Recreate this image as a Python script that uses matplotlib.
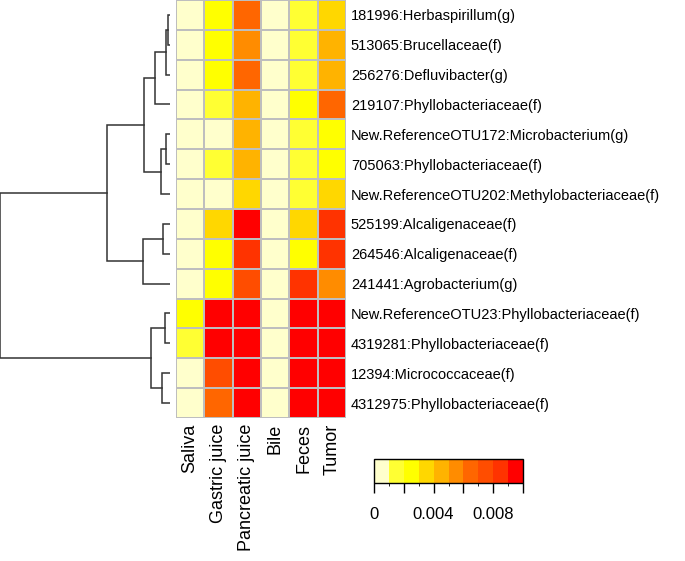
import matplotlib
matplotlib.use("Agg")
import matplotlib.pyplot as plt
from matplotlib.colors import ListedColormap, BoundaryNorm
import numpy as np

plt.rcParams['font.family'] = ['Liberation Sans', 'DejaVu Sans']

samples = ["Saliva", "Gastric juice", "Pancreatic juice", "Bile", "Feces", "Tumor"]
otus = ["181996:Herbaspirillum(g)", "513065:Brucellaceae(f)", "256276:Defluvibacter(g)",
        "219107:Phyllobacteriaceae(f)", "New.ReferenceOTU172:Microbacterium(g)",
        "705063:Phyllobacteriaceae(f)", "New.ReferenceOTU202:Methylobacteriaceae(f)",
        "525199:Alcaligenaceae(f)", "264546:Alcaligenaceae(f)", "241441:Agrobacterium(g)",
        "New.ReferenceOTU23:Phyllobacteriaceae(f)", "4319281:Phyllobacteriaceae(f)",
        "12394:Micrococcaceae(f)", "4312975:Phyllobacteriaceae(f)"]

# relative abundance, rows in the order of otus, columns in the order of samples
abund = np.array([
    [0.0002, 0.0025, 0.0065, 0.0001, 0.0015, 0.0034],
    [0.0002, 0.0026, 0.0056, 0.0001, 0.0016, 0.0045],
    [0.0002, 0.0027, 0.0064, 0.0001, 0.0015, 0.0044],
    [0.0002, 0.0017, 0.0046, 0.0001, 0.0024, 0.0066],
    [0.0003, 0.0006, 0.0045, 0.0001, 0.0016, 0.0026],
    [0.0002, 0.0015, 0.0046, 0.0001, 0.0015, 0.0025],
    [0.0002, 0.0007, 0.0036, 0.0001, 0.0016, 0.0035],
    [0.0002, 0.0034, 0.0124, 0.0001, 0.0035, 0.0086],
    [0.0002, 0.0025, 0.0088, 0.0001, 0.0023, 0.0087],
    [0.0002, 0.0024, 0.0075, 0.0001, 0.0085, 0.0055],
    [0.0024, 0.0152, 0.0210, 0.0001, 0.0180, 0.0195],
    [0.0015, 0.0141, 0.0230, 0.0001, 0.0163, 0.0171],
    [0.0004, 0.0078, 0.0188, 0.0001, 0.0144, 0.0167],
    [0.0003, 0.0066, 0.0201, 0.0001, 0.0092, 0.0143],
])

# row dendrogram merges: (left, right, height); leaves 0..13, new clusters 14..
merges = [
    (0, 1, 0.012), (14, 2, 0.024), (15, 3, 0.089),
    (4, 5, 0.025), (17, 6, 0.053), (16, 18, 0.154),
    (7, 8, 0.041), (20, 9, 0.160), (19, 21, 0.373),
    (10, 11, 0.030), (12, 13, 0.047), (23, 24, 0.112),
    (22, 25, 1.0),
]

breaks = np.linspace(0, 0.01, 11)
palette = ["#FFFFCC", "#FFFF33", "#FFFF00", "#FFD700", "#FFB300",
           "#FF8C00", "#FF6600", "#FF4D00", "#FF3300", "#FF0000"]
cmap = ListedColormap(palette)
norm = BoundaryNorm(breaks, cmap.N, clip=True)

W, H = 685, 561
fig = plt.figure(figsize=(W / 100, H / 100), dpi=100)

def fax(x0, y0, x1, y1):
    return fig.add_axes([x0 / W, 1 - y1 / H, (x1 - x0) / W, (y1 - y0) / H])

nr, nc = abund.shape

# heatmap
ax = fax(176, 0, 346, 418)
ax.pcolormesh(abund, cmap=cmap, norm=norm, edgecolors="#BEBEBE", linewidth=1.2)
ax.set_xlim(0, nc)
ax.set_ylim(nr, 0)
ax.set_xticks(np.arange(nc) + 0.5)
ax.set_xticklabels(samples, rotation=90, fontsize=13)
ax.set_yticks(np.arange(nr) + 0.5)
ax.set_yticklabels(otus, fontsize=10.5)
ax.yaxis.tick_right()
ax.tick_params(axis="y", length=0, pad=3.5)
ax.tick_params(axis="x", length=0, pad=4)
for s in ax.spines.values():
    s.set_visible(False)

# dendrogram
dax = fax(0, 0, 170, 418)
pos = {i: i + 0.5 for i in range(nr)}
hgt = {i: 0.0 for i in range(nr)}
for k, (a, b, h) in enumerate(merges):
    ya, yb = pos[a], pos[b]
    dax.plot([hgt[a], h, h, hgt[b]], [ya, ya, yb, yb], color="#333333", lw=1.1,
             solid_joinstyle="miter")
    pos[nr + k] = (ya + yb) / 2
    hgt[nr + k] = h
dax.set_xlim(1.0, 0)
dax.set_ylim(nr, 0)
dax.axis("off")

# colour key
cax = fax(374, 459, 523, 483)
cb = fig.colorbar(plt.cm.ScalarMappable(norm=norm, cmap=cmap), cax=cax,
                  orientation="horizontal", ticks=breaks[::2])
cb.ax.set_xticklabels(["0", "", "0.004", "", "0.008", ""], fontsize=12)
cb.ax.tick_params(length=7, width=1, pad=10)
cb.outline.set_linewidth(1)

fig.savefig("out.png", dpi=100)
